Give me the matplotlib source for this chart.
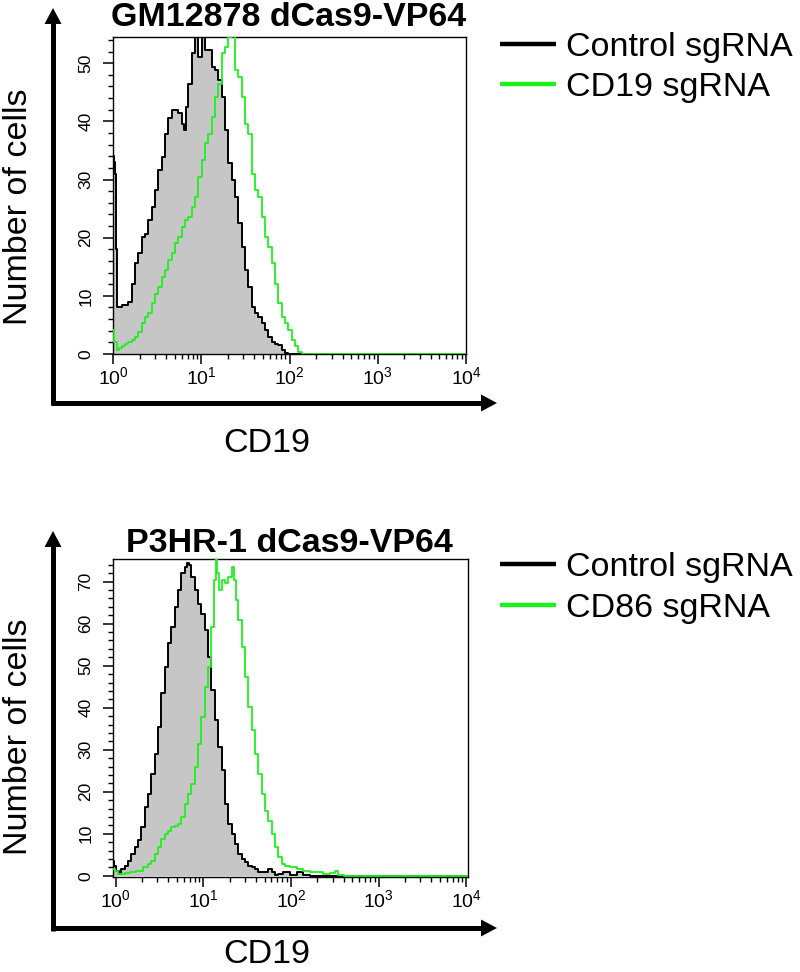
import numpy as np
import matplotlib
matplotlib.use("Agg")
import matplotlib.pyplot as plt
from matplotlib.lines import Line2D
from matplotlib.patches import Polygon
from matplotlib.ticker import FixedLocator, LogLocator, NullFormatter

plt.rcParams['font.family'] = ['Liberation Sans', 'DejaVu Sans']
plt.rcParams['mathtext.fontset'] = 'custom'
plt.rcParams['mathtext.rm'] = 'Liberation Sans'
plt.rcParams['mathtext.it'] = 'Liberation Sans'
plt.rcParams['mathtext.bf'] = 'Liberation Sans:bold'

# ---------------- data (log10 CD19 intensity, number of cells) ----------------
top_title = "GM12878 dCas9-VP64"
top_labels = ["Control sgRNA", "CD19 sgRNA"]
top_ctrl_log = [0.000, 0.012, 0.024, 0.036, 0.048, 0.079, 0.117, 0.155, 0.193, 0.230,
                0.268, 0.306, 0.344, 0.381, 0.419, 0.457, 0.495, 0.533, 0.570, 0.608,
                0.646, 0.684, 0.721, 0.759, 0.797, 0.816, 0.835, 0.873, 0.910, 0.948,
                0.986, 1.024, 1.061, 1.099, 1.137, 1.175, 1.212, 1.250, 1.288, 1.326,
                1.364, 1.401, 1.439, 1.477, 1.515, 1.552, 1.590, 1.628, 1.666, 1.704,
                1.741, 1.779, 1.817, 1.855, 1.892, 1.930, 1.968, 2.006, 4.000]
top_ctrl_cnt = [34.0, 33.0, 31.0, 18.0, 8.1, 8.1, 8.5, 8.5, 9.0, 12.0,
                15.6, 17.3, 20.2, 20.7, 23.0, 25.3, 28.2, 31.6, 33.9, 37.9,
                40.5, 41.9, 41.9, 41.4, 39.6, 38.5, 42.5, 46.5, 51.7, 55.0,
                51.0, 55.5, 52.2, 52.2, 49.4, 48.8, 47.1, 44.2, 38.5, 32.8,
                29.9, 27.0, 22.5, 18.4, 14.4, 11.6, 8.1, 7.0, 6.4, 5.3,
                4.1, 3.0, 2.1, 1.8, 1.5, 0.7, 0.1, 0.0, 0.0]
top_test_log = [0.000, 0.023, 0.060, 0.079, 0.117, 0.155, 0.193, 0.230, 0.268, 0.306,
                0.344, 0.381, 0.419, 0.457, 0.495, 0.533, 0.570, 0.608, 0.646, 0.684,
                0.721, 0.759, 0.797, 0.835, 0.873, 0.910, 0.948, 0.986, 1.024, 1.061,
                1.099, 1.137, 1.175, 1.212, 1.250, 1.288, 1.326, 1.364, 1.401, 1.439,
                1.477, 1.515, 1.552, 1.590, 1.628, 1.666, 1.704, 1.741, 1.779, 1.817,
                1.855, 1.892, 1.930, 1.968, 2.006, 2.043, 2.081, 2.119, 2.157, 4.000]
top_test_cnt = [4.1, 2.0, 0.7, 1.0, 1.3, 1.8, 2.1, 2.4, 3.0, 3.8,
                5.3, 6.4, 7.0, 8.7, 10.4, 11.6, 13.3, 14.4, 16.2, 17.3,
                19.0, 20.2, 21.9, 23.0, 23.6, 25.3, 27.0, 30.5, 33.3, 36.2,
                37.9, 40.8, 44.2, 46.5, 51.7, 52.8, 54.5, 56.0, 48.8, 47.7,
                44.2, 39.6, 37.9, 31.0, 28.2, 27.0, 23.6, 20.2, 18.4, 15.6,
                12.1, 8.7, 6.4, 5.3, 4.1, 2.4, 1.3, 0.4, 0.0, 0.0]

bot_title = "P3HR-1 dCas9-VP64"
bot_labels = ["Control sgRNA", "CD86 sgRNA"]
bot_ctrl_log = [-0.030, -0.011, 0.027, 0.046, 0.084, 0.122, 0.160, 0.198, 0.236, 0.274,
                0.312, 0.350, 0.389, 0.427, 0.465, 0.503, 0.541, 0.579, 0.617, 0.655,
                0.693, 0.731, 0.770, 0.808, 0.827, 0.846, 0.884, 0.922, 0.960, 0.998,
                1.036, 1.074, 1.112, 1.150, 1.189, 1.227, 1.265, 1.303, 1.341, 1.379,
                1.417, 1.455, 1.493, 1.531, 1.570, 1.608, 1.646, 1.684, 1.722, 1.760,
                1.798, 1.836, 1.874, 1.950, 2.027, 2.103, 2.179, 2.255, 4.030]
bot_ctrl_cnt = [3.6, 2.4, 1.2, 0.4, 1.6, 2.4, 3.6, 5.2, 6.8, 8.4,
                11.5, 16.3, 19.5, 24.3, 29.0, 35.4, 43.4, 49.7, 55.3, 59.3,
                64.0, 68.0, 72.0, 73.6, 74.4, 74.0, 71.2, 68.0, 64.8, 62.4,
                58.5, 52.1, 44.2, 37.0, 30.6, 25.1, 17.1, 12.3, 9.9, 7.6,
                5.2, 4.0, 3.2, 2.4, 2.0, 1.6, 0.8, 0.8, 0.8, 1.6,
                0.8, 0.2, 0.4, 0.8, 0.2, 0.8, 0.2, 0.0, 0.0]
bot_test_log = [-0.030, 0.008, 0.046, 0.084, 0.122, 0.198, 0.274, 0.350, 0.389, 0.427,
                0.465, 0.503, 0.541, 0.579, 0.617, 0.655, 0.693, 0.731, 0.770, 0.808,
                0.846, 0.884, 0.922, 0.960, 0.998, 1.036, 1.074, 1.112, 1.131, 1.150,
                1.170, 1.189, 1.227, 1.265, 1.303, 1.341, 1.360, 1.379, 1.417, 1.455,
                1.493, 1.531, 1.570, 1.608, 1.646, 1.684, 1.722, 1.760, 1.798, 1.836,
                1.874, 1.912, 1.950, 2.027, 2.103, 2.179, 2.255, 2.331, 2.408, 2.484,
                2.522, 2.560, 2.636, 4.030]
bot_test_cnt = [1.6, 1.2, 0.4, 0.4, 0.6, 0.8, 1.2, 2.0, 2.8, 3.6,
                5.2, 6.8, 8.8, 9.9, 10.7, 11.5, 11.9, 12.3, 13.9, 17.1,
                19.5, 21.9, 25.9, 31.4, 37.8, 45.0, 49.7, 59.3, 70.4, 77.0,
                72.0, 68.0, 70.4, 69.6, 71.2, 73.6, 70.4, 65.6, 60.8, 54.5,
                47.3, 40.2, 34.6, 29.0, 24.3, 19.5, 15.5, 13.1, 9.9, 6.8,
                4.4, 2.8, 2.4, 2.0, 1.6, 1.2, 0.8, 0.8, 0.4, 0.6,
                1.2, 0.2, 0.0, 0.0]

x_label = "CD19"
y_label = "Number of cells"
xtick_exp = [0, 1, 2, 3, 4]

# ---------------- layout ----------------
W, H = 800, 972
fig = plt.figure(figsize=(W / 100, H / 100), dpi=100)


def fx(px):
    return px / W


def fy(py):
    return 1 - py / H


GRAY = '#c6c6c6'
GREEN = '#1ef01e'
FS = 24.5


def panel(rect, xlim, ylim, ymajor, ctrl_log, ctrl_cnt, test_log, test_cnt):
    ax = fig.add_axes(rect)
    xc = 10 ** np.asarray(ctrl_log)
    xt = 10 ** np.asarray(test_log)
    ax.fill_between(xc, ctrl_cnt, 0, step='mid', color=GRAY, lw=0, zorder=1)
    ax.step(xc, ctrl_cnt, where='mid', color='black', lw=1.4, zorder=2)
    ax.step(xt, test_cnt, where='mid', color=GREEN, lw=1.3, zorder=3)
    ax.set_xscale('log')
    ax.set_xlim(*xlim)
    ax.set_ylim(*ylim)
    ax.xaxis.set_major_locator(FixedLocator([10.0 ** e for e in xtick_exp]))
    ax.set_xticklabels([r'$\mathregular{10^{%d}}$' % e for e in xtick_exp], fontsize=14)
    ax.xaxis.set_minor_locator(LogLocator(base=10, subs=np.arange(2, 10)))
    ax.xaxis.set_minor_formatter(NullFormatter())
    ax.set_yticks(np.arange(0, ylim[1], ymajor))
    ax.set_yticks(np.arange(0, ylim[1], 2), minor=True)
    ax.set_yticklabels([str(int(v)) for v in np.arange(0, ylim[1], ymajor)],
                       rotation=90, va='center', fontsize=12.5)
    ax.tick_params(which='major', length=7, width=1.1, direction='out')
    ax.tick_params(which='minor', length=3.5, width=1.0, direction='out')
    ax.tick_params(axis='x', pad=2)
    ax.tick_params(axis='y', pad=7)
    for s in ax.spines.values():
        s.set_linewidth(1.0)
    return ax


ax1 = panel([fx(113), fy(354), (466 - 113) / W, (354 - 37) / H],
            (10 ** 0, 10 ** 4), (0, 54.5), 10,
            top_ctrl_log, top_ctrl_cnt, top_test_log, top_test_cnt)
ax2 = panel([fx(113), fy(877), (468 - 113) / W, (877 - 559) / H],
            (10 ** -0.03, 10 ** 4.02), (-0.3, 75.4), 10,
            bot_ctrl_log, bot_ctrl_cnt, bot_test_log, bot_test_cnt)


def axis_arrows(corner_y, tip_y, tip_x=497, ax_x=53):
    lw = 5 * 72 / 100
    fig.add_artist(Line2D([fx(ax_x), fx(ax_x)], [fy(corner_y + 2.5), fy(tip_y + 15)],
                          transform=fig.transFigure, color='black', lw=lw, solid_capstyle='butt'))
    fig.add_artist(Polygon([[fx(ax_x - 8.5), fy(tip_y + 16)], [fx(ax_x + 8.5), fy(tip_y + 16)],
                            [fx(ax_x), fy(tip_y)]], closed=True, transform=fig.transFigure,
                           facecolor='black', edgecolor='none'))
    fig.add_artist(Line2D([fx(ax_x - 2.5), fx(tip_x - 15)], [fy(corner_y), fy(corner_y)],
                          transform=fig.transFigure, color='black', lw=lw, solid_capstyle='butt'))
    fig.add_artist(Polygon([[fx(tip_x - 16), fy(corner_y - 8.5)], [fx(tip_x - 16), fy(corner_y + 8.5)],
                            [fx(tip_x), fy(corner_y)]], closed=True, transform=fig.transFigure,
                           facecolor='black', edgecolor='none'))


axis_arrows(403, 8)
axis_arrows(928, 531)


def legend(y1, y2, labels):
    for yy, lab, col in [(y1, labels[0], 'black'), (y2, labels[1], GREEN)]:
        fig.add_artist(Line2D([fx(500), fx(556)], [fy(yy - 12), fy(yy - 12)],
                              transform=fig.transFigure, color=col, lw=3.2, solid_capstyle='butt'))
        fig.text(fx(566), fy(yy), lab, fontsize=FS, ha='left', va='baseline')


legend(56, 96, top_labels)
legend(576, 617, bot_labels)

fig.text(fx(289), fy(26), top_title, fontsize=FS, fontweight='bold', ha='center', va='baseline')
fig.text(fx(289), fy(552), bot_title, fontsize=FS, fontweight='bold', ha='center', va='baseline')

for cy in (207, 737):
    fig.text(fx(27), fy(cy), y_label, fontsize=FS, rotation=90, rotation_mode='anchor',
             ha='center', va='baseline')

fig.text(fx(267), fy(452), x_label, fontsize=FS, ha='center', va='baseline')
fig.text(fx(267), fy(963), x_label, fontsize=FS, ha='center', va='baseline')

fig.savefig('out.png', dpi=100)
